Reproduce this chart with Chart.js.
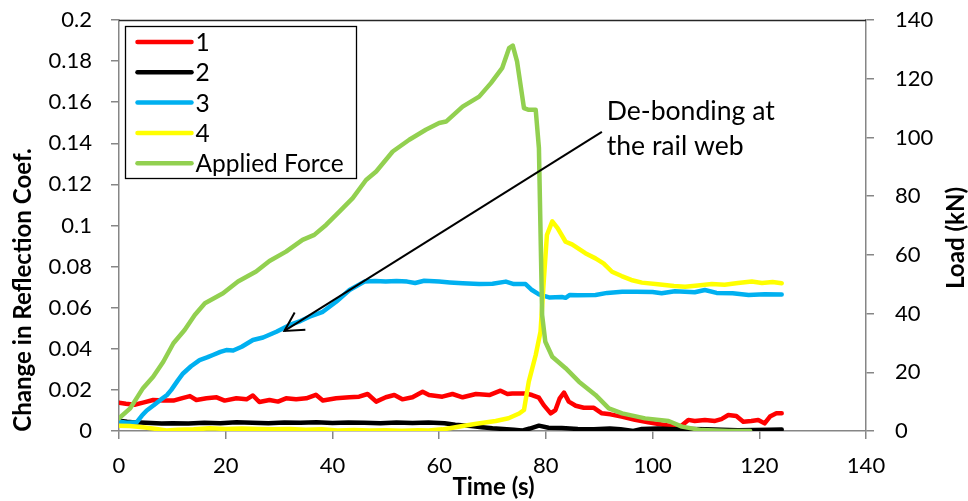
<!DOCTYPE html>
<html>
<head>
<meta charset="utf-8">
<script src="https://cdn.jsdelivr.net/npm/chart.js@4/dist/chart.umd.min.js"></script>
<style>
  html, body { margin: 0; padding: 0; background: #ffffff; }
  #wrap { width: 968px; height: 501px; position: relative; }
</style>
</head>
<body>
<div id="wrap"><canvas id="chart" width="968" height="501"></canvas></div>
<script>
// ---- Series data: time (s) and measured values ----
const seriesNames = ['1', '2', '3', '4', 'Applied Force'];
const seriesColors = ['#FF0000', '#000000', '#00B0F0', '#FFFF00', '#92D050'];

// Sensor 1 (change in reflection coefficient)
const time1 = [0, 1.3, 2.9, 4.5, 6.4, 8.3, 10.2, 11.7, 13.3, 14.5, 16.4, 18.3, 19.8, 22.0, 23.9, 25.1, 26.3, 28.2, 29.8, 31.3, 33.2, 35.1, 36.9, 38.2, 40.7, 43.2, 45.0, 46.6, 48.2, 50.0, 51.6, 53.1, 55.0, 56.9, 58.1, 60.6, 62.5, 64.4, 66.9, 69.4, 71.5, 72.8, 73.7, 76.2, 77.4, 78.7, 79.6, 80.9, 81.8, 82.6, 83.4, 84.3, 85.6, 87.1, 89.0, 90.5, 92.1, 94.2, 96.7, 99.2, 101.7, 104.2, 105.4, 106.7, 107.9, 109.8, 111.7, 112.9, 114.2, 115.7, 117.0, 118.5, 119.8, 121.0, 122.0, 123.2, 124.2];
const refl1 = [0.0138, 0.0133, 0.0128, 0.0138, 0.0151, 0.0148, 0.0148, 0.0159, 0.0170, 0.0151, 0.0159, 0.0164, 0.0148, 0.0159, 0.0154, 0.0173, 0.0141, 0.0151, 0.0143, 0.0159, 0.0154, 0.0159, 0.0176, 0.0148, 0.0159, 0.0164, 0.0167, 0.0180, 0.0143, 0.0164, 0.0175, 0.0154, 0.0164, 0.0191, 0.0175, 0.0167, 0.0180, 0.0164, 0.0180, 0.0175, 0.0196, 0.0180, 0.0183, 0.0183, 0.0175, 0.0162, 0.0126, 0.0086, 0.0102, 0.0159, 0.0187, 0.0143, 0.0123, 0.0113, 0.0113, 0.0086, 0.0081, 0.0070, 0.0054, 0.0042, 0.0032, 0.0021, 0.0026, 0.0054, 0.0049, 0.0054, 0.0049, 0.0058, 0.0078, 0.0073, 0.0045, 0.0049, 0.0054, 0.0037, 0.0070, 0.0086, 0.0086];

// Sensor 2
const time2 = [0, 1.5, 3, 5, 8, 10, 13, 16, 19, 22, 25, 28, 31, 34, 37, 40, 43, 46, 49, 52, 55, 58, 61, 63, 66, 68, 70, 72, 74, 75.5, 77, 78.7, 80.5, 83, 86, 89, 92, 94, 96.4, 98, 101, 104, 107, 110, 113, 116, 119, 122, 124.2];
const refl2 = [0.0050, 0.0045, 0.0042, 0.0040, 0.0036, 0.0038, 0.0036, 0.0040, 0.0038, 0.0042, 0.0040, 0.0038, 0.0041, 0.0040, 0.0043, 0.0039, 0.0041, 0.0040, 0.0038, 0.0041, 0.0039, 0.0041, 0.0038, 0.0030, 0.0024, 0.0018, 0.0013, 0.0010, 0.0006, 0.0002, 0.0012, 0.0026, 0.0016, 0.0014, 0.0010, 0.0008, 0.0012, 0.0008, 0.0000, 0.0010, 0.0012, 0.0008, 0.0010, 0.0008, 0.0006, 0.0004, 0.0005, 0.0006, 0.0007];

// Sensor 3
const time3 = [0, 1.5, 3.3, 4.3, 5.2, 6.5, 7.7, 9, 9.8, 11, 12, 13.5, 15.1, 16.5, 17.6, 19, 20.1, 21.4, 23, 25.1, 27, 29.5, 32, 34, 35.7, 38.2, 40.7, 43.2, 46, 48, 50, 52, 54, 55.5, 57.2, 60, 62, 64.4, 67.5, 70, 72.5, 74, 76.2, 77.4, 78.7, 80.6, 83, 83.7, 84.5, 86, 89.3, 91.5, 94.3, 97, 100, 101.7, 104.2, 107.9, 109.8, 112, 115, 118, 121, 124.2];
const refl3 = [0.0045, 0.0040, 0.0042, 0.0075, 0.0100, 0.0125, 0.0150, 0.0175, 0.0200, 0.0245, 0.0280, 0.0315, 0.0345, 0.0358, 0.0370, 0.0385, 0.0394, 0.0392, 0.0410, 0.0443, 0.0455, 0.0483, 0.0516, 0.0535, 0.0556, 0.0580, 0.0629, 0.0686, 0.0727, 0.0730, 0.0727, 0.0730, 0.0727, 0.0720, 0.0731, 0.0727, 0.0723, 0.0719, 0.0715, 0.0717, 0.0727, 0.0715, 0.0715, 0.0686, 0.0665, 0.0650, 0.0652, 0.0648, 0.0662, 0.0660, 0.0662, 0.0672, 0.0678, 0.0678, 0.0676, 0.0670, 0.0680, 0.0675, 0.0686, 0.0672, 0.0670, 0.0662, 0.0666, 0.0664];

// Sensor 4
const time4 = [0, 2, 4.5, 7, 8.9, 11, 14, 17, 20, 23, 26, 29, 32, 35, 38, 41, 44, 47, 50, 53, 56, 58, 60.6, 62, 64.4, 67, 70.6, 73, 75, 75.9, 76.8, 78.1, 79.0, 79.6, 80.2, 81.2, 82.2, 83.7, 84.9, 87.4, 89.3, 90.8, 92.4, 94.2, 96, 98, 101, 104, 106.1, 108.5, 111.1, 113.5, 116, 118.6, 120.5, 122.5, 124.2];
const refl4 = [0.0026, 0.0024, 0.0018, 0.0010, 0.0002, 0.0006, 0.0008, 0.0013, 0.0010, 0.0012, 0.0010, 0.0008, 0.0010, 0.0006, 0.0008, 0.0003, 0.0005, 0.0002, 0.0004, 0.0001, 0.0004, 0.0003, 0.0008, 0.0013, 0.0024, 0.0035, 0.0049, 0.0062, 0.0085, 0.0102, 0.0240, 0.0370, 0.0483, 0.0727, 0.0954, 0.1020, 0.0987, 0.0921, 0.0908, 0.0865, 0.0840, 0.0816, 0.0775, 0.0754, 0.0735, 0.0722, 0.0714, 0.0706, 0.0702, 0.0708, 0.0715, 0.0712, 0.0720, 0.0727, 0.0720, 0.0725, 0.0719];

// Applied force (kN), right axis
const timeForce = [0, 2.1, 4.5, 6.4, 8.3, 10.2, 12.3, 14.2, 16.1, 19.5, 22.3, 25.7, 28.2, 31.3, 34.4, 36.6, 38.8, 41.3, 43.8, 46.3, 48.2, 51.3, 54.4, 57.5, 60, 61.3, 64.4, 67.5, 69.7, 71.8, 73.1, 73.8, 74.6, 75.9, 76.8, 78.1, 78.7, 79.3, 79.9, 81.2, 83.7, 86.2, 89.3, 91.8, 94.3, 98.6, 103, 105.5, 109.2, 114.2, 118.3];
const forceKN = [4.3, 7.7, 14.6, 18.5, 23.6, 29.9, 34.4, 39.5, 43.5, 46.9, 50.9, 54.3, 57.9, 61.1, 65.1, 66.8, 70.2, 74.7, 79.3, 85.5, 88.4, 95.2, 99.2, 102.6, 104.9, 105.4, 110.5, 113.9, 118.5, 123.6, 130.4, 131.3, 125.9, 110.0, 109.4, 109.4, 96.4, 39.5, 30.4, 25.3, 21.4, 16.8, 12.3, 7.7, 6.0, 4.3, 3.4, 1.5, 0.3, 0, 0];

// ---- Axis ticks ----
const timeTicks = [0, 20, 40, 60, 80, 100, 120, 140];
const reflTicks = [0, 0.02, 0.04, 0.06, 0.08, 0.1, 0.12, 0.14, 0.16, 0.18, 0.2];
const loadTicks = [0, 20, 40, 60, 80, 100, 120, 140];

// ---- Text ----
const xTitle = 'Time (s)';
const yLeftTitle = 'Change in Reflection Coef.';
const yRightTitle = 'Load (kN)';
const noteLines = ['De-bonding at', 'the rail web'];
// annotation anchors in data units (time, reflection coef.)
const noteTextAt = { x: 91.4, y: 0.1554 };
const noteLineGap = 0.017;
const arrowFrom = { x: 90.5, y: 0.1456 };
const arrowTo = { x: 31.0, y: 0.0487 };

const FONT = 'Lato, "DejaVu Sans", sans-serif';
const AXIS_GREY = '#868686';

function toPoints(xs, ys) { return xs.map((x, i) => ({ x: x, y: ys[i] })); }

const pairs = [[time1, refl1], [time2, refl2], [time3, refl3], [time4, refl4], [timeForce, forceKN]];
const datasets = pairs.map((p, i) => ({
  label: seriesNames[i],
  data: toPoints(p[0], p[1]),
  borderColor: seriesColors[i],
  backgroundColor: seriesColors[i],
  borderWidth: 4.5,
  pointRadius: 0,
  tension: 0,
  fill: false,
  borderCapStyle: 'round',
  borderJoinStyle: 'round',
  yAxisID: i === 4 ? 'yLoad' : 'yRefl',
  order: 5 - i
}));

function fixedTicks(list) {
  return function (scale) { scale.ticks = list.map(v => ({ value: v })); };
}

// fixed axis box sizes; label overhang is allowed into the margins
function fitBox(size, vertical) {
  return function (s) {
    if (vertical) { s.width = size; s.paddingTop = 0; s.paddingBottom = 0; }
    else { s.height = size; s.paddingLeft = 0; s.paddingRight = 0; }
  };
}

// bold title size: the long left title spans the lower part of the value axis
function titleFontSize(ctx) {
  ctx.font = 'bold 20px ' + FONT;
  const w = ctx.measureText(yLeftTitle).width;
  return 20 * 284 / w;
}

const decor = {
  id: 'decor',
  afterDatasetsDraw(chart) {
    const { ctx, chartArea: a, scales } = chart;
    const sx = scales.x, sy = scales.yRefl;
    ctx.save();

    // plot-area top border
    ctx.strokeStyle = '#262626';
    ctx.lineWidth = 1.3;
    ctx.beginPath();
    ctx.moveTo(a.left, a.top + 0.5);
    ctx.lineTo(a.right, a.top + 0.5);
    ctx.stroke();

    // legend box
    const lx = a.left + 6.5, ly = a.top + 6.5, lw = 231, lh = 152;
    ctx.fillStyle = '#ffffff';
    ctx.fillRect(lx, ly, lw, lh);
    ctx.strokeStyle = '#000000';
    ctx.lineWidth = 1.3;
    ctx.strokeRect(lx, ly, lw, lh);
    ctx.font = '24.5px ' + FONT;
    ctx.textBaseline = 'middle';
    ctx.textAlign = 'left';
    chart.data.datasets.forEach((ds, i) => {
      const yy = ly + 15.5 + i * 30.3;
      ctx.strokeStyle = ds.borderColor;
      ctx.lineWidth = 4.5;
      ctx.lineCap = 'round';
      ctx.beginPath();
      ctx.moveTo(lx + 12, yy);
      ctx.lineTo(lx + 66, yy);
      ctx.stroke();
      ctx.fillStyle = '#000000';
      ctx.fillText(ds.label, lx + 70, yy + 1);
    });

    // annotation arrow
    const x0 = sx.getPixelForValue(arrowFrom.x), y0 = sy.getPixelForValue(arrowFrom.y);
    const x1 = sx.getPixelForValue(arrowTo.x), y1 = sy.getPixelForValue(arrowTo.y);
    ctx.strokeStyle = '#000000';
    ctx.lineWidth = 2;
    ctx.lineCap = 'butt';
    ctx.beginPath();
    ctx.moveTo(x0, y0);
    ctx.lineTo(x1, y1);
    ctx.stroke();
    const ang = Math.atan2(y0 - y1, x0 - x1);
    const head = 21, spread = 0.5;
    ctx.beginPath();
    ctx.moveTo(x1 + head * Math.cos(ang - spread), y1 + head * Math.sin(ang - spread));
    ctx.lineTo(x1, y1);
    ctx.lineTo(x1 + head * Math.cos(ang + spread), y1 + head * Math.sin(ang + spread));
    ctx.stroke();

    // annotation text
    ctx.fillStyle = '#000000';
    ctx.font = '26.6px ' + FONT;
    ctx.textAlign = 'left';
    ctx.textBaseline = 'middle';
    noteLines.forEach((line, i) => {
      ctx.fillText(line, sx.getPixelForValue(noteTextAt.x), sy.getPixelForValue(noteTextAt.y - i * noteLineGap));
    });
    ctx.restore();
  },
  afterDraw(chart) {
    const { ctx, chartArea: a } = chart;
    ctx.save();
    const fs = titleFontSize(ctx);
    ctx.fillStyle = '#000000';
    ctx.font = 'bold ' + fs.toFixed(1) + 'px ' + FONT;
    ctx.textAlign = 'center';
    ctx.textBaseline = 'middle';
    // bottom title
    ctx.fillText(xTitle, (a.left + a.right) / 2 + 1, a.bottom + 56);
    // left title
    ctx.save();
    ctx.translate(a.left - 96, a.bottom - 141);
    ctx.rotate(-Math.PI / 2);
    ctx.fillText(yLeftTitle, 0, 0);
    ctx.restore();
    // right title
    ctx.save();
    ctx.translate(a.right + 90, a.top + 218);
    ctx.rotate(-Math.PI / 2);
    ctx.fillText(yRightTitle, 0, 0);
    ctx.restore();
    ctx.restore();
  }
};

const tickFont = { family: FONT, size: 22 };

new Chart(document.getElementById('chart'), {
  type: 'line',
  data: { datasets: datasets },
  options: {
    responsive: false,
    animation: false,
    devicePixelRatio: 1,
    layout: { padding: { top: 20, left: 0, right: 0, bottom: 0 } },
    plugins: { legend: { display: false }, tooltip: { enabled: false } },
    scales: {
      x: {
        type: 'linear',
        position: 'bottom',
        min: 0, max: 140,
        afterBuildTicks: fixedTicks(timeTicks),
        afterFit: fitBox(70, false),
        grid: { drawOnChartArea: false, color: AXIS_GREY, tickLength: 8, lineWidth: 1.5 },
        border: { color: AXIS_GREY, width: 1.5 },
        ticks: { font: tickFont, color: '#000000', padding: 14, maxRotation: 0, autoSkip: false }
      },
      yRefl: {
        type: 'linear',
        position: 'left',
        min: 0, max: 0.2,
        afterBuildTicks: fixedTicks(reflTicks),
        afterFit: fitBox(119, true),
        grid: { drawOnChartArea: false, color: AXIS_GREY, tickLength: 8, lineWidth: 1.5 },
        border: { color: AXIS_GREY, width: 1.5 },
        ticks: { font: tickFont, color: '#000000', padding: 19, autoSkip: false, callback: v => String(v) }
      },
      yLoad: {
        type: 'linear',
        position: 'right',
        min: 0, max: 140,
        afterBuildTicks: fixedTicks(loadTicks),
        afterFit: fitBox(102, true),
        grid: { drawOnChartArea: false, color: AXIS_GREY, tickLength: 8, lineWidth: 1.5 },
        border: { color: AXIS_GREY, width: 1.5 },
        ticks: { font: tickFont, color: '#000000', padding: 21, autoSkip: false }
      }
    }
  },
  plugins: [decor]
});
</script>
</body>
</html>
